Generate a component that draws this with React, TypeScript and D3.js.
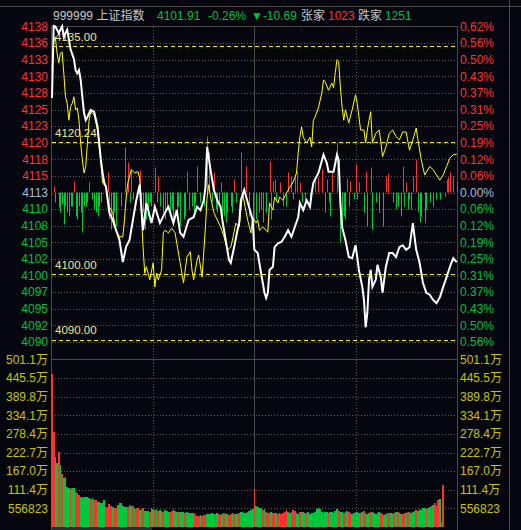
import React from 'react';
import * as d3 from 'd3';

const W = 521;
const H = 530;
const preClose = 4112.6;

const priceTickLabels = ['4138','4136','4133','4130','4128','4125','4123','4120','4118','4115','4113','4110','4108','4105','4102','4100','4097','4095','4092','4090'];
const pctTickLabels = ['0.62%','0.56%','0.50%','0.43%','0.37%','0.31%','0.25%','0.19%','0.12%','0.06%','0.00%','0.06%','0.12%','0.19%','0.25%','0.31%','0.37%','0.43%','0.50%','0.56%'];
const tickSteps = [10,9,8,7,6,5,4,3,2,1,0,-1,-2,-3,-4,-5,-6,-7,-8,-9];
const volTickLabels = ['501.1万','445.5万','389.8万','334.1万','278.4万','222.7万','167.0万','111.4万','556823'];
const volTickValues = [501.14,445.46,389.78,334.09,278.41,222.73,167.05,111.36,55.68];

const refLevels = [4135.0, 4120.24, 4100.0, 4090.0];
const refLabels = ['4135.00', '4120.24', '4100.00', '4090.00'];

const whiteMinutes = [0,1,2,4,5,6,7,8,9,10,11,13,14,15,16,17,18,19,20,21,23,25,27,28,29,30,31,32,34,36,38,40,42,44,46,48,50,52,54,56,59,61,64,67,69,72,74,76,78,81,84,86,88,90,91,92,94,96,98,100,101,103,105,106,108,110,111,112,114,119,120,122,124,126,127,128,129,131,132,134,136,138,140,142,144,146,147,149,151,153,154,155,158,161,163,164,167,169,170,171,172,174,176,178,180,181,182,184,185,186,187,188,189,190,192,193,195,196,198,200,202,204,206,208,210,212,214,215,216,218,220,222,224,226,228,230,232,234,236,238,240];
const whitePrices = [4127.1,4138.2,4138.1,4137.1,4137.6,4138.1,4136.5,4137.1,4137.6,4136.1,4134.6,4133.1,4131.4,4130.9,4131.4,4129.9,4127.3,4124.8,4123.7,4124.2,4125.3,4125.0,4122.7,4120.2,4117.6,4115.6,4114.1,4113.5,4109.5,4108.4,4106.8,4105.3,4101.9,4104.3,4105.3,4108.4,4111.4,4113.8,4106.8,4111.0,4107.9,4110.4,4107.9,4109.5,4110.4,4107.9,4109.9,4106.4,4105.8,4108.4,4108.8,4110.4,4109.9,4111.4,4113.4,4119.6,4116.1,4113.0,4111.4,4110.4,4108.4,4105.3,4102.2,4101.8,4104.2,4106.8,4107.9,4111.4,4113.0,4108.4,4103.8,4103.3,4100.2,4097.2,4096.4,4097.2,4100.7,4101.2,4104.2,4104.8,4105.0,4105.8,4106.8,4105.8,4107.3,4108.8,4111.0,4109.9,4111.4,4110.4,4112.5,4114.1,4115.6,4118.4,4117.1,4115.8,4115.8,4118.4,4117.6,4111.0,4107.3,4105.3,4102.7,4102.5,4104.5,4102.7,4100.7,4098.1,4096.1,4091.9,4094.1,4099.2,4100.7,4098.1,4099.2,4101.5,4099.6,4097.2,4101.2,4103.3,4103.3,4102.7,4104.2,4104.5,4103.8,4104.2,4107.9,4105.8,4103.8,4101.8,4098.7,4097.2,4096.9,4096.1,4095.6,4096.5,4098.1,4099.6,4101.2,4102.5,4101.91];

const yellowMinutes = [0,1,2,3,4,5,6,7,8,9,10,11,12,13,14,15,16,17,18,19,20,21,22,23,25,27,28,29,30,32,34,36,38,40,42,43,44,45,47,49,51,52,53,54,55,56,58,60,61,62,63,65,66,67,69,71,73,74,76,78,80,82,83,84,86,87,89,91,92,93,94,96,98,100,102,103,104,106,107,109,111,113,116,118,119,121,122,123,125,127,128,129,131,132,134,135,137,139,141,143,145,146,147,148,149,151,153,154,155,156,158,160,161,162,164,166,167,168,169,170,171,172,173,174,176,178,180,181,183,185,186,187,188,189,190,192,194,195,196,198,200,202,204,206,208,210,212,214,216,217,219,221,224,226,228,230,232,234,236,238,240];
const yellowPrices = [4131.4,4135.6,4136.5,4134.0,4132.5,4134.0,4134.2,4130.9,4127.3,4126.3,4123.7,4125.8,4126.3,4127.3,4125.3,4125.6,4123.7,4120.2,4117.6,4115.6,4116.6,4120.2,4123.7,4125.0,4124.5,4122.2,4119.6,4117.1,4114.1,4113.4,4110.4,4109.5,4106.8,4105.8,4105.8,4108.4,4111.9,4114.1,4116.1,4115.6,4115.8,4114.8,4109.5,4104.2,4100.2,4101.2,4099.2,4101.8,4098.1,4100.2,4099.2,4100.7,4106.4,4106.8,4106.4,4107.1,4106.4,4104.8,4101.8,4098.7,4102.7,4103.5,4100.7,4099.2,4102.2,4103.0,4099.6,4107.3,4111.9,4113.8,4111.9,4109.5,4108.4,4107.3,4105.8,4104.8,4103.8,4104.2,4105.3,4107.9,4107.3,4112.5,4108.4,4106.4,4108.8,4107.9,4108.4,4106.8,4107.3,4106.8,4106.5,4111.0,4109.9,4111.9,4111.0,4111.9,4111.4,4112.5,4113.4,4114.2,4115.6,4118.7,4121.1,4122.7,4121.1,4120.2,4121.1,4119.6,4123.7,4124.2,4125.6,4127.9,4129.9,4129.6,4128.3,4129.4,4128.7,4131.0,4133.0,4132.7,4128.9,4125.8,4123.7,4125.3,4123.3,4125.3,4127.6,4126.3,4122.2,4122.2,4120.2,4122.2,4123.7,4125.0,4120.2,4121.7,4122.2,4120.4,4118.1,4119.6,4121.7,4122.2,4121.2,4120.7,4121.9,4121.9,4119.1,4120.7,4122.5,4120.7,4117.6,4115.3,4116.6,4116.1,4115.3,4114.5,4115.3,4116.6,4117.9,4118.4,4118.5];

const strengthMinutes = [1,2,4,5,6,7,8,9,10,11,12,13,14,15,16,17,18,19,20,21,22,24,25,26,27,28,29,33,34,35,36,37,38,41,43,45,46,47,48,52,53,54,55,56,57,58,59,61,62,63,64,66,67,68,70,71,72,74,75,76,78,79,80,81,83,84,85,86,88,90,92,93,95,96,97,98,99,100,101,102,103,104,106,107,108,109,112,115,117,119,121,123,124,125,127,129,130,131,132,133,135,137,139,140,142,143,144,145,147,148,150,153,156,158,160,162,163,164,165,166,169,170,171,172,173,174,175,176,177,179,180,181,182,185,186,187,189,190,192,194,196,198,199,202,204,205,207,208,209,210,211,212,213,214,216,217,218,219,221,222,224,226,228,230,233,234,235,236,238,240];
const strengthValues = [6,-10,-15,-20,-12,-32,-14,-20,-24,-14,-14,11,-24,-27,-14,-20,-40,-14,-14,-10,10,-7,-17,-20,-24,-14,-10,20,-27,-37,-30,-20,-34,-14,45,30,-10,23,-7,22,-30,-20,-37,-27,-24,-10,-14,25,-10,16,-14,-20,-27,-17,-24,-17,-27,-20,-14,-34,-27,-24,21,-17,-14,-20,-10,26,-10,-14,56,40,-10,20,-17,-20,-14,10,-30,-24,-30,-20,-14,-20,13,-10,40,26,-24,-37,-27,-20,-17,-30,-20,31,-27,11,13,-7,10,-14,-14,20,16,-7,16,21,10,-10,-14,-14,16,15,23,-20,13,-10,-24,20,50,18,-50,-37,-24,-27,14,-14,11,-7,28,-7,10,-20,21,-34,25,-37,-10,-20,-34,16,19,-10,-17,-14,-24,26,-14,10,-17,-7,-17,16,33,-20,-30,-24,-30,-17,-10,-14,-7,-7,-4,13,15,20,16,11];

const volumeValues = [458,285,209,191,224,186,159,146,149,121,116,113,116,118,106,101,96,91,86,89,91,91,86,84,86,81,81,76,74,71,71,81,61,61,69,63,61,56,56,66,71,71,63,59,59,59,65,63,63,56,53,56,51,54,58,48,48,48,46,58,53,51,53,48,51,49,46,51,48,46,46,49,53,48,46,46,46,44,46,41,46,41,41,41,41,38,34,34,36,34,36,36,38,38,38,43,40,38,41,38,36,38,41,40,38,36,39,41,40,38,40,43,46,44,41,43,46,48,51,55,114,63,59,56,56,51,53,46,41,41,46,41,43,41,38,43,38,41,46,51,44,41,46,51,48,41,39,44,46,46,41,41,44,39,43,41,46,53,58,53,46,41,46,46,41,44,46,41,49,53,49,46,44,41,46,48,44,41,38,41,44,46,41,43,46,48,41,38,41,44,46,41,39,41,44,41,38,36,38,41,43,41,38,41,44,46,41,39,38,41,43,46,44,41,46,48,51,48,53,51,56,58,53,56,61,63,66,71,63,80,84,15,126];
const volumeUp = [1,1,0,0,1,0,1,0,0,0,0,1,0,0,1,1,1,0,0,0,0,0,0,1,0,1,1,0,0,0,0,0,1,1,1,1,0,1,1,0,0,0,0,0,0,1,0,0,1,0,1,1,0,1,1,0,0,0,1,0,0,1,0,1,0,0,1,0,0,0,1,1,0,0,0,1,0,0,0,1,0,0,0,0,0,1,1,1,0,1,1,1,0,0,0,0,0,1,0,1,1,0,1,0,0,1,1,0,1,0,0,1,0,0,0,0,0,0,0,0,1,0,0,0,0,1,0,1,1,1,0,1,1,0,1,0,1,1,1,1,0,0,1,1,1,0,0,1,0,0,0,1,0,0,0,1,0,0,0,0,0,1,0,0,1,0,0,1,0,0,1,0,0,1,1,0,1,1,0,0,1,0,0,1,0,1,1,0,0,1,0,0,0,1,0,1,1,0,0,1,1,0,0,1,0,1,0,0,1,1,0,1,0,0,0,0,1,0,0,0,0,0,1,0,0,1,0,1,1,1,0,1,1,1,1,1,1,2];

const header = [
  { text: '999999 上证指数', x: 53, color: '#c8c8c8' },
  { text: '4101.91', x: 157, color: '#00c040' },
  { text: '-0.26%', x: 208, color: '#00c040' },
  { text: '▼-10.69', x: 251, color: '#00c040' },
  { text: '张家', x: 301, color: '#c8c8c8' },
  { text: '1023', x: 328, color: '#ff3232' },
  { text: '跌家', x: 358, color: '#c8c8c8' },
  { text: '1251', x: 385, color: '#00c040' },
];

const FONT = '"Liberation Sans", Arial, "Noto Sans CJK SC", sans-serif';
const BG = '#05060e';
const RED = '#ff3232';
const GREEN = '#00c83c';
const FRAME = '#4a4a4a';
const GRID = '#5a5a5a';
const DASH = '#f0f000';

export default function App() {
  const left = 52;
  const right = 456.7;
  const priceTop = 26.5;
  const priceBottom = 358.5;
  const volTop = 359.5;
  const volBottom = 527;

  const x = d3.scaleLinear().domain([0, 240]).range([left, right]);
  const yPct = d3.scaleLinear().domain([-0.62, 0.62]).range([priceBottom, priceTop]);
  const yPrice = (p: number) => yPct(((p - preClose) / preClose) * 100);
  const yZero = yPct(0);
  const ySteps = d3.scaleLinear().domain([-10, 10]).range([priceBottom, priceTop]);
  const yStrength = d3.scaleLinear().domain([-100, 100]).range([yZero + 100, yZero - 100]);
  const yVol = d3.scaleLinear().domain([0, 501.14]).range([volBottom, volTop]);
  const evenRow = (v: number) => 2 * Math.round(v / 2) + 0.5;

  const line = d3.line<[number, number]>().x(d => x(d[0])).y(d => yPrice(d[1]));
  const whitePath = line(whiteMinutes.map((m, i) => [m, whitePrices[i]] as [number, number])) || '';
  const yellowPath = line(yellowMinutes.map((m, i) => [m, yellowPrices[i]] as [number, number])) || '';

  const labelColor = (s: number) => (s > 0 ? RED : s < 0 ? '#00c040' : '#a8bcd8');
  const barW = (right - left) / 240;

  return (
    <svg width={W} height={H} style={{ position: 'absolute', left: 0, top: 0, display: 'block', background: BG }} fontFamily={FONT}>
      <rect x={0} y={0} width={W} height={H} fill={BG} />
      <line x1={0} x2={W} y1={6.5} y2={6.5} stroke={FRAME} />
      <line x1={509.5} x2={509.5} y1={0} y2={H} stroke={FRAME} />
      {header.map((h, i) => (
        <text key={i} x={h.x} y={19.5} fontSize={12} fill={h.color}>{h.text}</text>
      ))}
      {tickSteps.map((s, i) => (
        s === 10 ? null : (
          <line key={'hg' + i} x1={left} x2={right} y1={Math.round(ySteps(s)) + 0.5} y2={Math.round(ySteps(s)) + 0.5} stroke={GRID} strokeDasharray="1,2" shapeRendering="crispEdges" />
        )
      ))}
      {volTickValues.slice(1).map((v, i) => (
        <line key={'vg' + i} x1={left} x2={right} y1={Math.round(yVol(v)) + 0.5} y2={Math.round(yVol(v)) + 0.5} stroke={GRID} strokeDasharray="1,2" shapeRendering="crispEdges" />
      ))}
      {[60, 180].map(m => (
        <line key={'vd' + m} x1={Math.round(x(m)) + 0.5} x2={Math.round(x(m)) + 0.5} y1={priceTop} y2={volBottom} stroke={GRID} strokeDasharray="1,2" shapeRendering="crispEdges" />
      ))}
      <line x1={Math.round(x(120)) + 0.5} x2={Math.round(x(120)) + 0.5} y1={priceTop} y2={volBottom} stroke={FRAME} />
      <line x1={left} x2={right + 1} y1={priceTop} y2={priceTop} stroke={FRAME} />
      <line x1={left} x2={right + 1} y1={volTop} y2={volTop} stroke={FRAME} />
      <line x1={left - 0.5} x2={left - 0.5} y1={priceTop} y2={H} stroke={FRAME} />
      <line x1={457.5} x2={457.5} y1={priceTop} y2={H} stroke={FRAME} />
      {tickSteps.map((s, i) => (
        <text key={'lp' + i} x={48} y={ySteps(s)} dy="0.36em" fontSize={12} textAnchor="end" fill={labelColor(s)}>{priceTickLabels[i]}</text>
      ))}
      {tickSteps.map((s, i) => (
        <text key={'rp' + i} x={460} y={ySteps(s)} dy="0.36em" fontSize={12} fill={labelColor(s)}>{pctTickLabels[i]}</text>
      ))}
      {volTickValues.map((v, i) => (
        <text key={'lv' + i} x={48} y={yVol(v)} dy="0.36em" fontSize={12} textAnchor="end" fill="#c8c400">{volTickLabels[i]}</text>
      ))}
      {volTickValues.map((v, i) => (
        <text key={'rv' + i} x={460} y={yVol(v)} dy="0.36em" fontSize={12} fill="#c8c400">{volTickLabels[i]}</text>
      ))}
      {strengthMinutes.map((m, i) => {
        const v = strengthValues[i];
        const xx = Math.round(x(m)) + 0.5;
        return (
          <line key={'sb' + i} x1={xx} x2={xx} y1={yZero} y2={yStrength(v)} stroke={v > 0 ? RED : GREEN} strokeWidth={1} />
        );
      })}
      {refLevels.map((lv, i) => (
        <g key={'ref' + i}>
          <line x1={left} x2={right} y1={evenRow(yPrice(lv))} y2={evenRow(yPrice(lv))} stroke={DASH} strokeWidth={1} strokeDasharray="4,3" shapeRendering="crispEdges" />
          <text x={55} y={yPrice(lv) - 6} fontSize={11.5} fill="#f0e890">{refLabels[i]}</text>
        </g>
      ))}
      {volumeValues.map((v, i) => {
        const x0 = x(i) - barW / 2;
        const last = volumeUp[i] === 2;
        return (
          <rect key={'vb' + i} x={last ? x(i) - 1 : x0} y={yVol(v)} width={last ? 2 : barW} height={volBottom - yVol(v)}
            fill={last ? '#d8d8d8' : volumeUp[i] ? RED : GREEN} shapeRendering="crispEdges" />
        );
      })}
      <path d={yellowPath} fill="none" stroke="#ffff00" strokeWidth={1} />
      <path d={whitePath} fill="none" stroke="#ffffff" strokeWidth={2} />
      <rect x={52} y={527} width={100} height={3} fill="#2c2c34" />
    </svg>
  );
}
